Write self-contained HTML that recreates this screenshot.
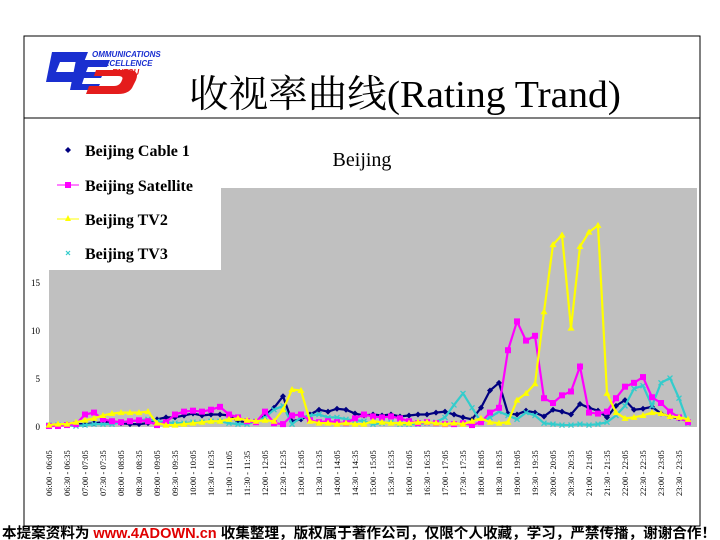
<!DOCTYPE html>
<html><head><meta charset="utf-8">
<style>
html,body{margin:0;padding:0;background:#fff;}
#wrap{position:relative;width:720px;height:540px;overflow:hidden;}
svg{position:absolute;left:0;top:0;}
</style></head>
<body>
<div id="wrap">
<svg id="chart" width="720" height="540" xmlns="http://www.w3.org/2000/svg">
  <rect x="24" y="36" width="676" height="490" fill="none" stroke="#000" stroke-width="1"/>
  <line x1="24" y1="118" x2="700" y2="118" stroke="#000" stroke-width="1"/>
  <g>
    <path d="M52,52 L88,52 L84,62 L60,62 L56,72 L80,72 L76,82 L46,82 Z" fill="#1a2fd0"/>
    <path d="M76,60 L110,60 L107,67 L88,67 L86,72 L104,72 L101,78 L84,78 L82,84 L100,84 L97,90 L70,90 Z" fill="#1a2fd0"/>
    <path d="M96,70 L128,70 Q140,70 136,80 L132,88 Q128,94 118,94 L86,94 L89,86 L114,86 Q120,86 122,80 Q124,76 118,76 L94,76 Z" fill="#e41c1c"/>
    <text x="92" y="57" font-family="Liberation Sans, sans-serif" font-size="8" font-weight="bold" font-style="italic" fill="#1a2fd0">OMMUNICATIONS</text>
    <text x="104" y="66" font-family="Liberation Sans, sans-serif" font-size="8" font-weight="bold" font-style="italic" fill="#1a2fd0">XCELLENCE</text>
    <text x="112" y="75" font-family="Liberation Sans, sans-serif" font-size="8" font-weight="bold" font-style="italic" fill="#e41c1c">ENTSU</text>
  </g>
  <text x="405" y="107" text-anchor="middle" font-family="Liberation Serif, Noto Serif CJK SC, serif" font-size="38" fill="#000" textLength="432" lengthAdjust="spacingAndGlyphs">收视率曲线(Rating Trand)</text>
  <rect x="49" y="188" width="648" height="239" fill="#c0c0c0"/>
  <text x="362" y="166" text-anchor="middle" font-family="Liberation Serif, serif" font-size="20" fill="#000">Beijing</text>
  <g id="yaxis"></g>
  <g id="xaxis"></g>
  <g id="series"></g>
  <g>
    <rect x="48" y="130" width="173" height="140" fill="#fff"/>
    <g>
      <path d="M68,147 L71,150 L68,153 L65,150 Z" fill="#000080"/>
      <text x="85" y="156" font-family="Liberation Serif, serif" font-weight="bold" font-size="16">Beijing Cable 1</text>
    </g>
    <g>
      <line x1="57" y1="185" x2="79" y2="185" stroke="#ff00ff" stroke-width="1"/>
      <rect x="65" y="182" width="6" height="6" fill="#ff00ff"/>
      <text x="85" y="191" font-family="Liberation Serif, serif" font-weight="bold" font-size="16">Beijing Satellite</text>
    </g>
    <g>
      <line x1="57" y1="219" x2="79" y2="219" stroke="#ffff00" stroke-width="1"/>
      <path d="M68,215 L71,221 L65,221 Z" fill="#ffff00"/>
      <text x="85" y="225" font-family="Liberation Serif, serif" font-weight="bold" font-size="16">Beijing TV2</text>
    </g>
    <g>
      <path d="M66,251 L70,255 M70,251 L66,255" stroke="#33cccc" stroke-width="1.2"/>
      <text x="85" y="259" font-family="Liberation Serif, serif" font-weight="bold" font-size="16">Beijing TV3</text>
    </g>
  </g>
  <text x="2" y="538" font-family="Liberation Sans, Noto Sans CJK SC, sans-serif" font-size="14.5" font-weight="bold" fill="#000" textLength="714" lengthAdjust="spacingAndGlyphs">本提案资料为 <tspan fill="#e00000">www.4ADOWN.cn</tspan> 收集整理，版权属于著作公司，仅限个人收藏，学习，严禁传播，谢谢合作！</text>
</svg>
</div>
<script>
// Time slots every 15 minutes from 06:00 (hours)
const timeSlots = [];
for (let i = 0; i < 72; i++) timeSlots.push(6 + i / 4);
const cable1 = [0.2,0.2,0.3,0.3,0.3,0.4,0.5,0.6,0.4,0.3,0.3,0.4,
  0.8,1.0,1.0,1.2,1.4,1.2,1.3,1.3, 1.2,0.6,0.5,0.6, 1.2,2.0,3.2,0.6,
  0.8,1.3,1.8,1.6, 1.9,1.8,1.4,1.2, 1.3,1.2,1.3,1.1, 1.2,1.3,1.3,1.5,
  1.6,1.3,1.0,0.8, 2.0,3.8,4.6,1.4, 1.3,1.7,1.5,1.1, 1.8,1.6,1.3,2.4,
  2.0,1.7,1.0,2.2, 2.8,1.8,1.9,2.1, 1.4,1.1,0.9,0.6];
const satellite = [0.1,0.1,0.2,0.3,1.3,1.5,0.8,0.6,0.5,0.6,0.7,0.6,
  0.2,0.5,1.3,1.6,1.7,1.6,1.8,2.1, 1.3,1.0,0.6,0.5, 1.6,0.4,0.3,1.2,
  1.3,0.7,0.5,0.6, 0.5,0.4,0.9,1.3, 1.1,1.0,1.1,0.9, 0.6,0.4,0.5,0.4,
  0.3,0.3,0.4,0.2, 0.5,1.5,2.0,8.0, 11.0,9.0,9.5,3.0, 2.5,3.3,3.7,6.3,
  1.5,1.4,1.6,3.0, 4.2,4.6,5.2,3.1, 2.5,1.6,1.0,0.5];
const tv2 = [0.2,0.3,0.3,0.5,0.7,0.9,1.2,1.4,1.5,1.5,1.5,1.6,
  0.4,0.2,0.2,0.3,0.4,0.5,0.6,0.6, 0.8,0.9,0.7,0.6, 0.7,0.6,1.8,3.9,
  3.8,0.6,0.4,0.4, 0.3,0.4,0.3,0.3, 0.6,0.5,0.4,0.4, 0.4,0.5,0.5,0.4,
  0.3,0.4,0.3,0.6, 0.9,0.5,0.4,0.5, 2.8,3.5,4.5,12.0, 19.0,20.0,10.3,18.8,
  20.3,21.0,3.5,1.5, 0.9,1.0,1.2,1.5, 1.4,1.1,1.0,0.8];
const tv3 = [0.2,0.2,0.2,0.1,0.2,0.3,0.3,0.3,0.5,0.6,0.7,0.8,
  0.6,0.5,0.4,0.4,0.5,0.5,0.6,0.6, 0.4,0.3,0.3,0.6, 1.0,1.8,2.2,0.3,
  1.0,1.2,1.3,1.0, 1.0,0.8,0.7,0.6, 0.3,0.4,0.5,0.3, 0.3,0.3,0.4,0.5,
  1.0,2.3,3.5,2.0, 0.5,1.0,1.6,1.2, 0.8,1.5,1.2,0.4, 0.3,0.2,0.2,0.3,
  0.2,0.3,0.5,1.2, 2.2,4.0,4.3,2.2, 4.6,5.1,3.0,0.4];
const yTicks = [0, 5, 10, 15];
const xTickLabels = [];
for (let h = 6; h < 24; h++) {
  const hh = (h < 10 ? '0' : '') + h;
  xTickLabels.push(hh + ':00 - ' + hh + ':05');
  xTickLabels.push(hh + ':30 - ' + hh + ':35');
}

const NS = 'http://www.w3.org/2000/svg';
function xScale(t) { return 49 + (t - 6) * 36; }
function yScale(v) { return 427 - v * 9.6; }
function mk(tag, attrs, parent) {
  const e = document.createElementNS(NS, tag);
  for (const k in attrs) e.setAttribute(k, attrs[k]);
  parent.appendChild(e);
  return e;
}

const yax = document.getElementById('yaxis');
yTicks.forEach(v => {
  const t = mk('text', {x: 40, y: yScale(v) + 3, 'text-anchor': 'end', 'font-family': 'Liberation Serif, serif', 'font-size': 9, fill: '#000'}, yax);
  
  
  t.textContent = v;
});
const xax = document.getElementById('xaxis');
xTickLabels.forEach((lab, i) => {
  const x = xScale(6 + i / 2) + 3;
  const t = mk('text', {x: 0, y: 0, transform: 'translate(' + x + ',496) rotate(-90)', 'font-family': 'Liberation Serif, serif', 'font-size': 8.5, fill: '#000'}, xax);
  
  
  t.textContent = lab;
});

const seriesList = [
  {name: 'series-cable1', data: cable1, color: '#000080', marker: 'diamond'},
  {name: 'series-tv3', data: tv3, color: '#33cccc', marker: 'x'},
  {name: 'series-satellite', data: satellite, color: '#ff00ff', marker: 'square'},
  {name: 'series-tv2', data: tv2, color: '#ffff00', marker: 'triangle'}
];
const sg = document.getElementById('series');
seriesList.forEach(s => {
  const g = mk('g', {}, sg);
  
  
  const pts = s.data.map((v, i) => xScale(timeSlots[i]) + ',' + yScale(v)).join(' ');
  const pl = mk('polyline', {points: pts, fill: 'none', stroke: s.color, 'stroke-width': 2.2}, g);
  
  
  s.data.forEach((v, i) => {
    const x = xScale(timeSlots[i]), y = yScale(v);
    let m;
    if (s.marker === 'diamond') m = mk('path', {d: `M${x},${y-3}L${x+3},${y}L${x},${y+3}L${x-3},${y}Z`, fill: s.color}, g);
    else if (s.marker === 'square') m = mk('rect', {x: x - 3, y: y - 3, width: 6, height: 6, fill: s.color}, g);
    else if (s.marker === 'triangle') m = mk('path', {d: `M${x},${y-3.5}L${x+3.5},${y+2.5}L${x-3.5},${y+2.5}Z`, fill: s.color}, g);
    else m = mk('path', {d: `M${x-2.5},${y-2.5}L${x+2.5},${y+2.5}M${x+2.5},${y-2.5}L${x-2.5},${y+2.5}`, stroke: s.color, 'stroke-width': 1.3}, g);
    
    
  });
});
</script>
</body></html>
